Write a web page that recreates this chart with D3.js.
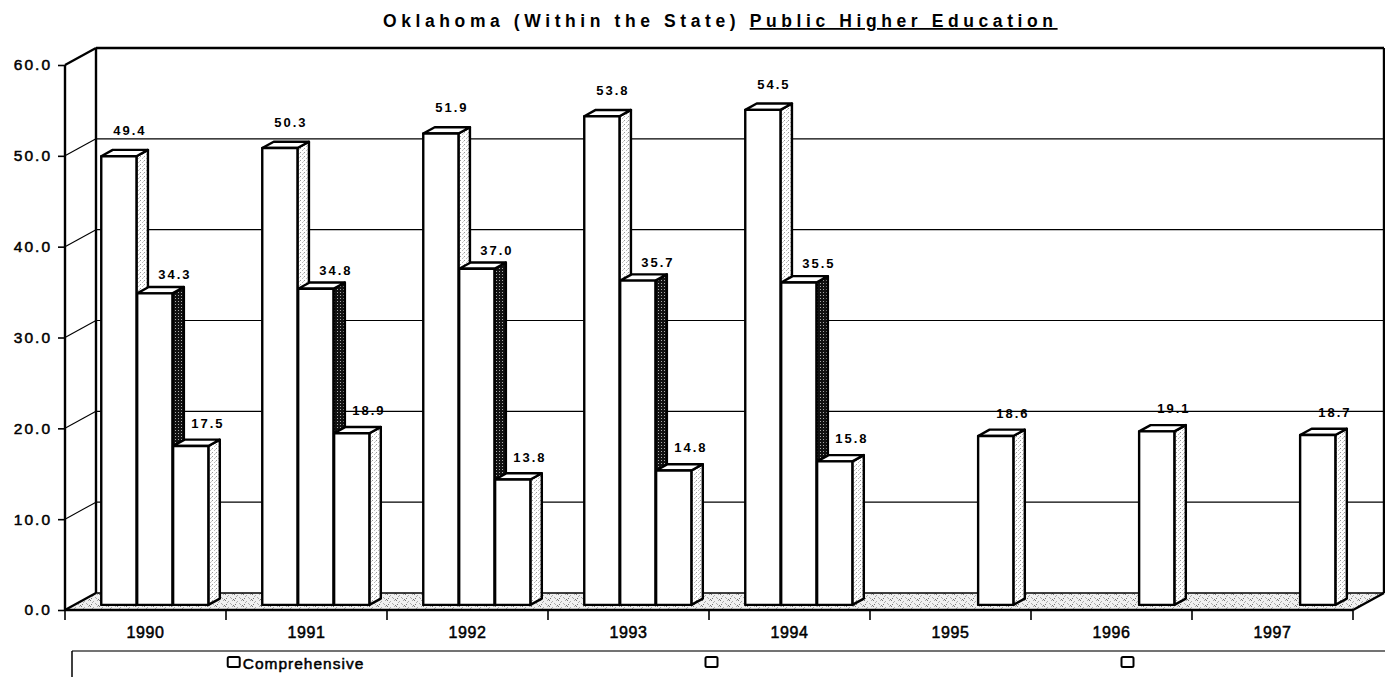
<!DOCTYPE html>
<html>
<head>
<meta charset="utf-8">
<script src="https://cdn.jsdelivr.net/npm/d3@7"></script>
<style>
  body { margin: 0; background: #fff; }
  svg { display: block; font-family: Arial, "Liberation Sans", sans-serif; }
</style>
</head>
<body>
<div id="chart-area"></div>
<script>
// Data
const years = ["1990", "1991", "1992", "1993", "1994", "1995", "1996", "1997"]
const seriesNames = ["Comprehensive", "", ""]
const comprehensive = [49.4, 50.3, 51.9, 53.8, 54.5, null, null, null]
const secondSeries = [34.3, 34.8, 37.0, 35.7, 35.5, null, null, null]
const thirdSeries = [17.5, 18.9, 13.8, 14.8, 15.8, 18.6, 19.1, 18.7]
const yTicks = [0, 10, 20, 30, 40, 50, 60]
const titleStart = "Oklahoma (Within the State) "
const titleUnderlined = "Public Higher Education"

// Layout
const W = 1385, H = 677
const FRONT = { LEFT: 65, RIGHT: 1353, TOP: 65, BOTTOM: 610 }
const DEPTH = { X: 31, Y: -17 }     // offset from front plane to back wall
const BAR_Z = 0.3, BAR_DEPTH = 0.37  // bar position inside the depth

const svg = d3.select("#chart-area").append("svg")
  .attr("width", W)
  .attr("height", H)
  .attr("viewBox", [0, 0, W, H])

// Scales
const y = d3.scaleLinear().domain([0, 60]).range([FRONT.BOTTOM, FRONT.TOP])
const x = d3.scaleBand().domain(years).range([FRONT.LEFT, FRONT.RIGHT])
const xs = d3.scaleBand().domain([0, 1, 2]).range([0, x.bandwidth()])
  .paddingInner(0.02).paddingOuter(0.75)

// project (x on front plane, value, depth 0..1) to screen
const P = (px, v, z) => [px + z * DEPTH.X, y(v) + z * DEPTH.Y]
const poly = pts => "M" + pts.map(p => p.join(",")).join("L") + "Z"

// Fill patterns
const defs = svg.append("defs")
const light = defs.append("pattern").attr("id", "light")
  .attr("width", 4).attr("height", 4).attr("patternUnits", "userSpaceOnUse")
light.append("rect").attr("width", 4).attr("height", 4).attr("fill", "#fff")
light.append("rect").attr("x", 0).attr("y", 0).attr("width", 1).attr("height", 1).attr("fill", "#999")
light.append("rect").attr("x", 2).attr("y", 2).attr("width", 1).attr("height", 1).attr("fill", "#bbb")
light.append("rect").attr("x", 3).attr("y", 1).attr("width", 1).attr("height", 1).attr("fill", "#ccc")

const dark = defs.append("pattern").attr("id", "dark")
  .attr("width", 3).attr("height", 3).attr("patternUnits", "userSpaceOnUse")
dark.append("rect").attr("width", 3).attr("height", 3).attr("fill", "#111")
dark.append("rect").attr("x", 1).attr("y", 1).attr("width", 1).attr("height", 1).attr("fill", "#aaa")

const floorPat = defs.append("pattern").attr("id", "floor")
  .attr("width", 9).attr("height", 6).attr("patternUnits", "userSpaceOnUse")
floorPat.append("rect").attr("width", 9).attr("height", 6).attr("fill", "#f0f0f0")
;[[0, 0], [3, 1], [5, 3], [1, 4], [7, 0], [2, 2], [8, 5], [6, 4]].forEach(([a, b], i) => {
  floorPat.append("rect").attr("x", a).attr("y", b).attr("width", 1).attr("height", 1)
    .attr("fill", i % 3 ? "#aaa" : "#777")
})

// Walls
const x0 = FRONT.LEFT, x1 = FRONT.RIGHT
svg.append("path")
  .attr("d", poly([P(x0, 0, 1), P(x1, 0, 1), P(x1, 60, 1), P(x0, 60, 1)]))
  .attr("fill", "#fff")

// Gridlines (back wall + left wall)
const grid = svg.append("g").attr("stroke", "#000").attr("stroke-width", 1.1)
grid.selectAll(".gback").data(yTicks.filter(d => d > 0 && d < 60)).join("line")
  .attr("x1", d => P(x0, d, 1)[0]).attr("y1", d => P(x0, d, 1)[1])
  .attr("x2", d => P(x1, d, 1)[0]).attr("y2", d => P(x1, d, 1)[1])
grid.selectAll(".gside").data(yTicks.filter(d => d > 0 && d < 60)).join("line")
  .attr("x1", d => P(x0, d, 0)[0]).attr("y1", d => P(x0, d, 0)[1])
  .attr("x2", d => P(x0, d, 1)[0]).attr("y2", d => P(x0, d, 1)[1])

// Floor
svg.append("path")
  .attr("d", poly([P(x0, 0, 0), P(x1, 0, 0), P(x1, 0, 1), P(x0, 0, 1)]))
  .attr("fill", "url(#floor)")
svg.append("line")
  .attr("x1", P(x0, 0, 1)[0]).attr("y1", P(x0, 0, 1)[1])
  .attr("x2", P(x1, 0, 1)[0]).attr("y2", P(x1, 0, 1)[1])
  .attr("stroke", "#000").attr("stroke-width", 1.5)

// Frame edges
const edges = [
  [P(x0, 0, 0), P(x0, 60, 0)],
  [P(x0, 60, 0), P(x0, 60, 1)],
  [P(x0, 60, 1), P(x1, 60, 1)],
  [P(x0, 0, 1), P(x0, 60, 1)],
  [P(x1, 0, 1), P(x1, 60, 1)],
  [P(x0, 0, 0), P(x0, 0, 1)],
  [P(x1, 0, 0), P(x1, 0, 1)]
]
svg.append("g").selectAll("line").data(edges).join("line")
  .attr("x1", d => d[0][0]).attr("y1", d => d[0][1])
  .attr("x2", d => d[1][0]).attr("y2", d => d[1][1])
  .attr("stroke", "#000").attr("stroke-width", 2.4)

// Bars
const allSeries = [comprehensive, secondSeries, thirdSeries]
const bars = []
years.forEach((yr, i) => {
  allSeries.forEach((vals, s) => {
    if (vals[i] != null) bars.push({ year: yr, s: s, v: vals[i] })
  })
})
const sideFill = ["url(#light)", "url(#dark)", "url(#light)"]

const barG = svg.append("g")
  .attr("stroke", "#000").attr("stroke-width", 2.4).attr("stroke-linejoin", "round")
bars.forEach(d => {
  const xa = x(d.year) + xs(d.s)
  const xb = xa + xs.bandwidth()
  const zf = BAR_Z, zb = BAR_Z + BAR_DEPTH
  const g = barG.append("g").attr("class", "bar")
  g.append("path")
    .attr("d", poly([P(xb, d.v, zf), P(xb, d.v, zb), P(xb, 0, zb), P(xb, 0, zf)]))
    .attr("fill", sideFill[d.s])
  g.append("path")
    .attr("d", poly([P(xa, d.v, zf), P(xb, d.v, zf), P(xb, d.v, zb), P(xa, d.v, zb)]))
    .attr("fill", "#fff")
  g.append("path")
    .attr("d", poly([P(xa, d.v, zf), P(xb, d.v, zf), P(xb, 0, zf), P(xa, 0, zf)]))
    .attr("fill", "#fff")
})

// Floor front edge on top
svg.append("line")
  .attr("x1", P(x0, 0, 0)[0]).attr("y1", P(x0, 0, 0)[1])
  .attr("x2", P(x1, 0, 0)[0]).attr("y2", P(x1, 0, 0)[1])
  .attr("stroke", "#000").attr("stroke-width", 2.6)

// Value labels
const labelDX = [10, 19, 16]
const labelDY = [-21, -14, -18]
svg.append("g").selectAll("text").data(bars).join("text")
  .attr("x", d => x(d.year) + xs(d.s) + xs.bandwidth() / 2 + BAR_Z * DEPTH.X + labelDX[d.s] + 1.1)
  .attr("y", d => y(d.v) + BAR_Z * DEPTH.Y + labelDY[d.s])
  .attr("text-anchor", "middle")
  .style("font-size", "13px")
  .style("font-weight", "bold")
  .style("letter-spacing", "2px")
  .text(d => d3.format(".1f")(d.v))

// Y axis
const yAxisG = svg.append("g")
  .attr("transform", `translate(${FRONT.LEFT},0)`)
  .call(d3.axisLeft(y).tickValues(yTicks).tickSize(7).tickPadding(6).tickFormat(d3.format(".1f")))
yAxisG.select(".domain").remove()
yAxisG.selectAll("line").attr("stroke", "#000").attr("stroke-width", 1.6)
yAxisG.selectAll("text")
  .attr("fill", "#000")
  .style("font-size", "15.5px")
  .style("font-family", "Arial, 'Liberation Sans', sans-serif")
  .style("letter-spacing", "2px")
  .style("stroke", "#000").style("stroke-width", 0.5)

// X axis
const xAxisG = svg.append("g")
  .attr("transform", `translate(0,${FRONT.BOTTOM})`)
  .call(d3.axisBottom(x).tickSize(0).tickPadding(17))
xAxisG.select(".domain").remove()
xAxisG.selectAll("text")
  .attr("fill", "#000")
  .style("font-size", "16px")
  .style("font-family", "Arial, 'Liberation Sans', sans-serif")
  .style("letter-spacing", "0.6px")
  .style("stroke", "#000").style("stroke-width", 0.5)
svg.append("g").selectAll("line").data(years.map(d => x(d)).concat([x.range()[1]])).join("line")
  .attr("x1", d => d).attr("x2", d => d)
  .attr("y1", FRONT.BOTTOM).attr("y2", FRONT.BOTTOM + 10)
  .attr("stroke", "#000").attr("stroke-width", 1.6)

// Title
const title = svg.append("text")
  .attr("x", 0).attr("y", 27)
  .style("font-size", "17.5px")
  .style("font-weight", "bold")
title.append("tspan").text(titleStart)
title.append("tspan").style("text-decoration", "underline").text(titleUnderlined)
const natural = title.node().getComputedTextLength()
const nChars = (titleStart + titleUnderlined).length
const titleWidth = 670
const ls = (titleWidth - natural) / (nChars - 1)
title.style("letter-spacing", ls + "px").attr("x", 718 - titleWidth / 2)

// Legend
svg.append("line").attr("x1", 72).attr("x2", W).attr("y1", 651).attr("y2", 651)
  .attr("stroke", "#444").attr("stroke-width", 1.5)
svg.append("line").attr("x1", 72).attr("x2", 72).attr("y1", 651).attr("y2", H)
  .attr("stroke", "#000").attr("stroke-width", 1.5)
const legendX = d3.scaleBand().domain([0, 1, 2]).range([88, 1336])
seriesNames.forEach((name, i) => {
  const g = svg.append("g")
  const t = g.append("text")
    .attr("y", 669)
    .style("font-size", "15.5px")
    .style("letter-spacing", "1px")
    .style("stroke", "#000").style("stroke-width", 0.5)
    .text(name)
  const tw = name ? t.node().getComputedTextLength() : 0
  const itemW = 13 + (name ? 2 + tw : 0)
  const left = legendX(i) + legendX.bandwidth() / 2 - itemW / 2
  g.append("rect")
    .attr("x", left).attr("y", 657).attr("width", 12).attr("height", 10).attr("rx", 1.5)
    .attr("fill", "#fff").attr("stroke", "#000").attr("stroke-width", 2)
  t.attr("x", left + 15)
})
</script>
</body>
</html>
